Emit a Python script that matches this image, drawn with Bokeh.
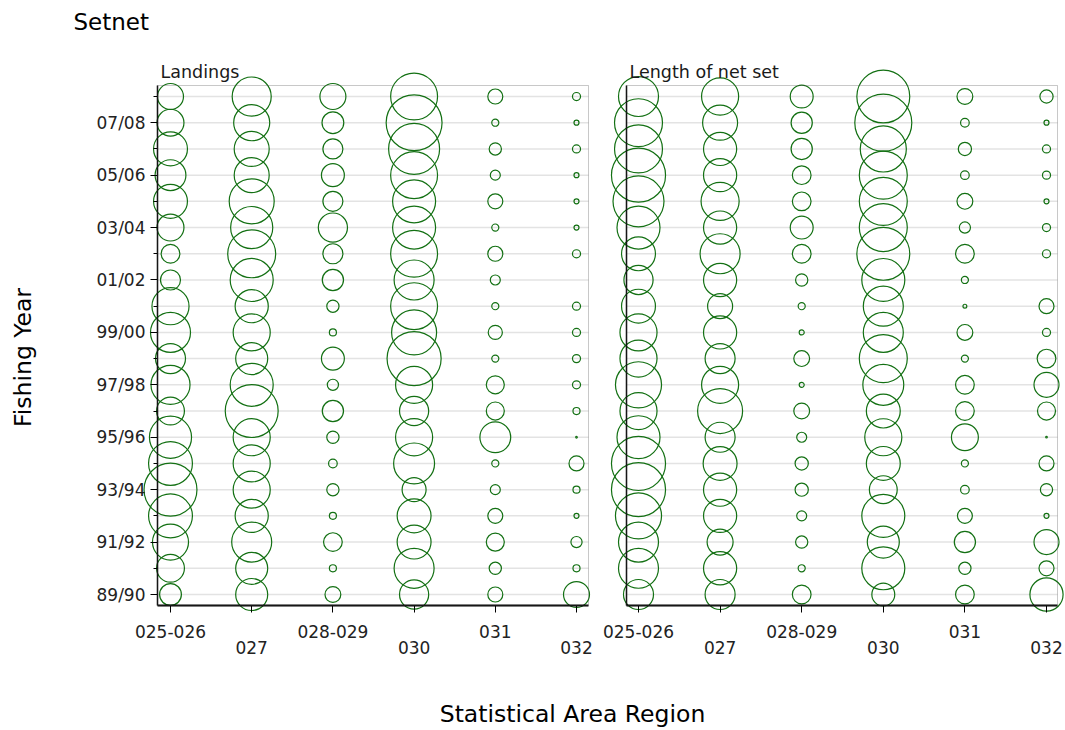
import math
from bokeh.plotting import figure
from bokeh.models import (LinearAxis, FixedTicker, Range1d, BoxAnnotation, Label,
                          ColumnDataSource)
from bokeh.embed import file_html
from bokeh.resources import INLINE

# ---------------- data ----------------
regions = ["025-026", "027", "028-029", "030", "031", "032"]
years = ["89/90", "90/91", "91/92", "92/93", "93/94", "94/95", "95/96", "96/97",
         "97/98", "98/99", "99/00", "00/01", "01/02", "02/03", "03/04", "04/05",
         "05/06", "06/07", "07/08", "08/09"]

# relative values (percent of annual total), listed from 89/90 to 08/09
land_025_026 = [19, 31, 52, 77, 112, 77, 71, 31, 61, 36, 64, 55, 16, 14, 29, 46, 38, 46, 29, 27]
land_027 = [41, 41, 64, 44, 55, 55, 55, 112, 74, 41, 55, 44, 74, 92, 71, 81, 49, 49, 52, 61]
land_028_029 = [10, 2, 14, 2, 6, 3, 6, 18, 5, 21, 2, 6, 18, 16, 34, 16, 21, 16, 19, 27]
land_030 = [34, 64, 46, 46, 23, 67, 55, 34, 55, 117, 81, 88, 64, 88, 74, 74, 88, 104, 125, 88]
land_031 = [9, 6, 13, 9, 4, 2, 38, 13, 13, 2, 8, 2, 4, 9, 2, 9, 4, 6, 2, 9]
land_032 = [27, 2, 5, 1, 2, 9, 0.1, 2, 2.6, 2.6, 2.6, 2.6, 0, 2.6, 1, 1, 1, 2.6, 1, 2.6]

net_025_026 = [36, 64, 64, 85, 117, 117, 74, 55, 85, 55, 55, 46, 34, 46, 74, 104, 117, 92, 92, 64]
net_027 = [36, 44, 27, 44, 44, 46, 36, 81, 55, 36, 44, 25, 44, 64, 44, 58, 44, 44, 49, 55]
net_028_029 = [14, 2, 6, 4, 7, 7, 4, 10, 1, 10, 1, 2, 6, 14, 21, 14, 14, 18, 18, 21]
net_030 = [21, 74, 41, 74, 31, 46, 55, 46, 67, 92, 64, 64, 74, 112, 92, 92, 92, 85, 130, 112]
net_031 = [14, 6, 18, 9, 3, 2, 29, 14, 14, 2, 10, 0.6, 2, 14, 5, 10, 3, 7, 3, 10]
net_032 = [44, 9, 25, 1, 6, 9, 0.1, 13, 25, 14, 2.6, 9, 0, 2.6, 2.6, 1, 2.6, 2.6, 1, 7]

landings = [land_025_026, land_027, land_028_029, land_030, land_031, land_032]
netlength = [net_025_026, net_027, net_028_029, net_030, net_031, net_032]

# ---------------- style / layout ----------------
W, H = 1065, 730
FONT = "DejaVu Sans"
GREEN = "#137013"
GRID = "#e3e3e3"
TICK_FS = "17px"
SUB_FS = "17.5px"
BIG_FS = "23.5px"

ROW0_PX, ROW_STEP = 594.0, 26.21
Y_IN = (-0.42, len(years) - 1 + 0.42)


def to_y(py):
    return (ROW0_PX - py) / ROW_STEP


def mk_to_x(col0, step):
    return lambda px: (px - col0) / step


tx1 = mk_to_x(170.0, 81.2)   # left panel pixel -> data
tx2 = mk_to_x(638.0, 81.6)   # right panel pixel -> data

p = figure(width=W, height=H,
           x_range=Range1d(tx1(0), tx1(W)),
           y_range=Range1d(to_y(H), to_y(0)),
           x_axis_location=None, y_axis_location=None,
           min_border_left=0, min_border_right=0, min_border_top=0, min_border_bottom=0,
           toolbar_location=None, output_backend="svg", title=None)
p.extra_x_ranges = {"right": Range1d(tx2(0), tx2(W))}
p.outline_line_color = None
p.grid.visible = False
p.background_fill_color = "white"
p.border_fill_color = "white"

rows = list(range(len(years)))
cols = list(range(len(regions)))
even = [i for i in rows if i % 2 == 0]
odd = [i for i in rows if i % 2 == 1]


def draw_panel(rname, tx, inner_l, inner_r, title, series, show_labels):
    xl, xr = tx(inner_l), tx(inner_r)

    gsrc = ColumnDataSource(dict(y=rows, x0=[xl] * len(rows), x1=[xr] * len(rows)))
    p.segment(x0="x0", x1="x1", y0="y", y1="y", source=gsrc,
              line_color=GRID, line_width=1.5, x_range_name=rname)

    xs, ys, sizes = [], [], []
    for ci, vals in enumerate(series):
        for yi, v in enumerate(vals):
            if v > 0:
                xs.append(ci)
                ys.append(yi)
                sizes.append(5.0 * math.sqrt(v))
    src = ColumnDataSource(dict(x=xs, y=ys, size=sizes))
    p.scatter("x", "y", size="size", source=src, marker="circle",
              fill_color=None, line_color=GREEN, line_width=1.2, x_range_name=rname)

    box = BoxAnnotation(left=xl, right=xr, bottom=Y_IN[0], top=Y_IN[1],
                        fill_color=None, fill_alpha=0,
                        line_color="#4a4a4a", line_width=1, x_range_name=rname)
    p.add_layout(box)

    yax = LinearAxis(fixed_location=xl, bounds=Y_IN, x_range_name=rname,
                     ticker=FixedTicker(ticks=even, minor_ticks=odd),
                     major_label_overrides={i: (years[i] if show_labels else "") for i in even},
                     axis_line_color="black", axis_line_width=1.5,
                     major_tick_out=7 if show_labels else 0, major_tick_in=0,
                     minor_tick_out=4 if show_labels else 0, minor_tick_in=0,
                     major_tick_line_color="black", minor_tick_line_color="black",
                     major_label_standoff=5,
                     major_label_text_font=FONT, major_label_text_font_size=TICK_FS,
                     major_label_text_color="#222222")
    p.add_layout(yax, "left")

    xax = LinearAxis(fixed_location=Y_IN[0], bounds=(xl, xr), x_range_name=rname,
                     ticker=FixedTicker(ticks=cols),
                     major_label_overrides={i: (regions[i] if i % 2 == 0 else "\n" + regions[i]) for i in cols},
                     axis_line_color="black", axis_line_width=2,
                     major_tick_out=7, major_tick_in=0,
                     minor_tick_out=0, minor_tick_in=0,
                     major_label_standoff=9,
                     major_label_text_font=FONT, major_label_text_font_size=TICK_FS,
                     major_label_text_line_height=0.82,
                     major_label_text_color="#222222")
    p.add_layout(xax, "below")

    p.add_layout(Label(x=tx(inner_l + 3), y=to_y(71.5), text=title, x_range_name=rname,
                       text_font=FONT, text_font_size=SUB_FS,
                       text_baseline="middle", text_align="left",
                       text_color="#1a1a1a"))


draw_panel("default", tx1, 157, 588, "Landings", landings, True)
draw_panel("right", tx2, 626, 1057, "Length of net set", netlength, False)

p.add_layout(Label(x=tx1(73), y=to_y(21), text="Setnet", text_font=FONT,
                   text_font_size="23px", text_baseline="middle",
                   text_align="left", text_color="black"))
p.add_layout(Label(x=tx1(22), y=to_y(357), text="Fishing Year", text_font=FONT,
                   text_font_size=BIG_FS, text_baseline="middle",
                   text_align="center", angle=math.pi / 2, text_color="black"))
p.add_layout(Label(x=tx1(572), y=to_y(713), text="Statistical Area Region", text_font=FONT,
                   text_font_size=BIG_FS, text_baseline="middle",
                   text_align="center", text_color="black"))

open("out.html", "w").write(file_html(p, INLINE))
